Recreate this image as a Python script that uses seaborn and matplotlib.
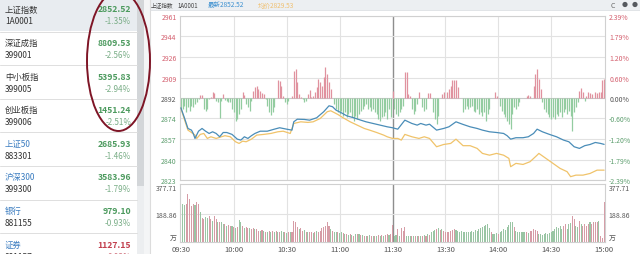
import numpy as np
import pandas as pd
import matplotlib
matplotlib.use("Agg")
import matplotlib.pyplot as plt
import seaborn as sns
from matplotlib.patches import Ellipse, Rectangle, Circle

sns.set_theme(style="white")
plt.rcParams['font.family'] = ['Noto Sans CJK SC', 'DejaVu Sans']
plt.rcParams['axes.unicode_minus'] = False

# ---------------- data ----------------
index_names = ['上证指数', '深证成指', '中小板指', '创业板指', '上证50', '沪深300', '银行', '证券']
index_codes = ['1A0001', '399001', '399005', '399006', '883301', '399300', '881155', '881157']
index_values = ['2852.52', '8809.53', '5395.83', '1451.24', '2685.93', '3583.96', '979.10', '1127.15']
index_changes = ['-1.35%', '-2.56%', '-2.94%', '-2.51%', '-1.46%', '-1.79%', '-0.93%', '0.93%']
index_up = [False, False, False, False, False, False, False, True]
name_blue = [False, False, False, False, True, True, True, True]

header_name = '上证指数'
header_code = '1A0001'
header_last = '最新2852.52'
header_avg = '均价2829.53'

prev_close = 2891.6
price_ticks = [2822.5, 2839.7, 2857.0, 2874.3, 2891.6, 2908.8, 2926.1, 2943.4, 2960.6]
price_labels = ['2823', '2840', '2857', '2874', '2892', '2909', '2926', '2944', '2961']
pct_labels = ['-2.39%', '-1.79%', '-1.20%', '-0.60%', '0.00%', '0.60%', '1.20%', '1.79%', '2.39%']

time_ticks = [0, 30, 60, 90, 120, 150, 180, 210, 240]
time_labels = ['09:30', '10:00', '10:30', '11:00', '11:30', '13:30', '14:00', '14:30', '15:00']

vol_ticks = [0, 188.86, 377.71]
vol_labels = ['万', '188.86', '377.71']

# last price line (minute index, price)
last_min = [0, 2, 4, 6, 7, 8, 10, 12, 14, 16, 18, 20, 22, 24, 26, 29, 32, 34, 36, 38,
            40, 42, 45, 49, 53, 56, 60, 63, 64, 66, 70, 73, 77, 81, 84, 86, 88, 91, 94, 98,
            102, 105, 109, 113, 117, 120, 123, 127, 131, 134, 136, 139, 141, 145, 149, 152,
            156, 160, 164, 168, 171, 175, 179, 183, 185, 187, 190, 194, 197, 200, 202, 205,
            209, 213, 217, 220, 223, 226, 229, 232, 235, 238, 240]
last_price = [2883.3, 2874.9, 2865.9, 2864.5, 2861.7, 2857.5, 2863.6, 2865.9, 2863.6, 2861.7,
              2863.1, 2861.7, 2858.9, 2862.5, 2862.5, 2860.9, 2856.9, 2856.1, 2858.9, 2857.5,
              2859.8, 2861.7, 2863.6, 2863.6, 2865.3, 2866.5, 2865.3, 2864.5, 2871.5, 2873.7,
              2873.5, 2872.9, 2874.9, 2880.0, 2885.0, 2884.2, 2881.3, 2879.1, 2876.6, 2874.9,
              2872.9, 2871.5, 2870.1, 2868.7, 2867.3, 2866.5, 2865.3, 2872.9, 2870.1, 2868.7,
              2870.1, 2868.7, 2869.5, 2864.5, 2865.9, 2867.3, 2871.5, 2869.3, 2867.3, 2865.9,
              2864.5, 2863.1, 2862.5, 2861.7, 2859.8, 2856.9, 2858.1, 2858.1, 2858.9, 2861.7,
              2865.3, 2863.1, 2860.9, 2858.9, 2856.1, 2854.7, 2850.5, 2849.1, 2851.4, 2852.4,
              2854.1, 2853.3, 2852.5]

# average price line (minute index, price)
avg_min = [0, 4, 6, 8, 9, 11, 13, 15, 17, 20, 23, 25, 28, 31, 33, 35, 37, 40, 43, 47,
           51, 55, 58, 62, 64, 68, 72, 75, 79, 83, 85, 89, 92, 96, 100, 104, 107, 111, 115, 117,
           120, 123, 125, 127, 131, 135, 138, 141, 145, 149, 153, 156, 160, 164, 168, 171, 175,
           179, 183, 186, 187, 190, 194, 198, 202, 203, 207, 211, 215, 219, 221, 224, 228, 232,
           236, 240]
avg_price = [2882.7, 2864.5, 2862.5, 2860.3, 2857.5, 2860.9, 2861.7, 2857.5, 2858.9, 2857.5,
             2858.9, 2859.8, 2858.9, 2854.7, 2853.3, 2855.2, 2854.7, 2856.9, 2860.3, 2860.9,
             2861.7, 2863.1, 2863.6, 2861.7, 2870.1, 2871.5, 2871.0, 2871.5, 2874.3, 2880.0,
             2880.8, 2877.7, 2874.9, 2871.5, 2868.7, 2865.9, 2864.5, 2862.5, 2860.3, 2858.9,
             2857.5, 2857.5, 2856.1, 2860.9, 2858.9, 2857.5, 2858.9, 2857.5, 2850.5, 2852.4,
             2853.3, 2856.9, 2851.4, 2851.4, 2849.1, 2844.9, 2843.4, 2844.9, 2843.4, 2840.7,
             2833.7, 2836.5, 2835.6, 2837.9, 2843.4, 2844.9, 2840.7, 2836.5, 2832.3, 2829.5,
             2825.3, 2826.6, 2826.6, 2828.0, 2830.8, 2830.8]

# red/green strength bars around previous close (points, per minute)
strength = [
    -9.3, -9.3, -6.5, -11.8, -7.6, -10.7, -6.5, -7.6, -5.0, -3.6,
    -0.8, 2.5, 2.5, -9.3, -10.7, -9.3, -0.8, 0.8, 4.8, 4.0,
    -2.3, -3.6, -16.8, -2.3, 3.4, -1.4, -2.3, -3.1, -3.6, -9.3,
    -12.0, -19.1, -17.7, -13.5, -9.3, 4.8, 2.5, -5.0, -7.8, -10.7,
    -2.3, 6.1, 9.0, 10.4, 7.6, 6.1, 4.2, 3.4, -0.8, -6.5,
    -12.0, -14.3, -12.0, -7.8, 0.0, 15.4, 14.6, 10.4, 1.7, -3.6,
    -5.0, -2.3, 0.0, 1.7, 23.0, 24.4, 13.2, 3.4, 0.8, -0.8,
    -3.6, -2.3, 3.4, 7.0, 0.8, 1.4, 4.8, 9.0, 16.0, 13.2,
    10.4, 17.4, 25.8, 20.2, 13.2, 7.6, 0.0, -5.0, -9.3, -12.0,
    -13.5, -10.7, -14.9, -12.0, -16.2, -13.5, -12.0, -16.2, -19.1, -14.9,
    -17.7, -13.5, -10.7, -9.3, -6.5, -5.0, -9.3, -7.8, -10.7, -9.3,
    -12.0, -13.5, -17.7, -19.1, -16.2, -14.9, -12.0, -17.7, -9.3, -16.2,
    6.1, -9.3, -13.5, -14.9, -12.0, -9.3, -6.5, 21.6, 21.6, 3.4,
    1.9, -9.3, -13.5, -10.7, -5.0, 5.3, 0.0, -7.8, -10.7, -9.3,
    4.2, 4.2, 0.0, -12.0, -17.7, -21.9, -14.9, 0.0, 3.4, 4.8,
    0.0, 4.8, 7.6, 10.4, 15.4, 15.4, 15.4, 9.0, 0.0, 0.0,
    -12.0, -9.3, -6.5, -9.3, -7.8, -6.5, -10.7, -12.0, -9.3, -13.5,
    -12.0, -14.9, -12.0, -19.1, -13.5, -9.3, 0.0, 0.0, 4.8, 1.7,
    0.0, -6.5, -10.7, -13.5, -16.2, -19.1, -21.9, -26.1, -13.5, -7.8,
    -9.3, -6.5, -3.6, 0.0, 0.0, 0.0, 1.9, 2.5, 1.9, 0.0,
    10.4, 20.2, 24.4, 16.0, 7.6, -3.6, -9.3, -12.0, -13.5, -16.2,
    -17.7, -16.2, -17.7, -13.5, -14.9, -12.0, -16.2, -12.0, -9.3, -13.5,
    -10.7, -14.9, -27.5, -12.0, -7.8, -3.6, 6.1, 8.2, 4.8, -2.3,
    1.9, 4.8, 4.0, 3.4, 0.0, 4.8, 4.2, 5.3, 4.8, 15.4,
    16.0]

# volume per minute (万)
volume = [
    192, 261, 254, 261, 330, 295, 250, 261, 254, 272,
    261, 204, 163, 158, 169, 163, 181, 158, 146, 176,
    158, 135, 140, 135, 124, 124, 112, 117, 108, 112,
    101, 94, 101, 153, 140, 112, 94, 101, 94, 94,
    89, 94, 89, 89, 78, 78, 82, 78, 71, 66,
    78, 71, 78, 71, 78, 71, 66, 78, 66, 71,
    62, 66, 66, 71, 146, 135, 101, 89, 94, 78,
    85, 71, 66, 71, 66, 62, 71, 78, 66, 78,
    94, 101, 112, 140, 112, 89, 78, 66, 71, 66,
    62, 66, 62, 55, 55, 48, 55, 48, 43, 55,
    55, 55, 48, 48, 43, 43, 43, 48, 43, 43,
    39, 43, 48, 43, 48, 43, 48, 55, 48, 55,
    117, 43, 48, 89, 43, 94, 78, 101, 43, 39,
    43, 39, 43, 39, 43, 39, 43, 43, 48, 43,
    55, 48, 66, 78, 85, 89, 94, 85, 89, 78,
    66, 71, 66, 78, 82, 89, 85, 78, 71, 78,
    71, 66, 71, 66, 71, 78, 71, 82, 78, 89,
    94, 101, 108, 117, 124, 94, 66, 55, 55, 62,
    55, 66, 78, 89, 85, 101, 117, 135, 140, 101,
    78, 66, 71, 66, 71, 66, 71, 62, 78, 78,
    89, 85, 78, 55, 55, 48, 55, 62, 55, 62,
    71, 78, 89, 101, 94, 108, 89, 112, 124, 89,
    124, 130, 181, 158, 112, 101, 146, 124, 112, 124,
    108, 124, 135, 124, 135, 140, 135, 146, 43, 30,
    272]

# direction of each volume bar: r = up, g = down, n = opening
volume_dir = ("nggrrrrrgr" "rgrrggrrgr" "rgrggrgrrg" "rgrggrgrrg" "rrgrrgrgrg"
              "rgrgrgrggr" "grgrrrrgrr" "grgrrgrgrr" "rrrrrgrggr" "ggrgrgrgrg"
              "rgrgrgrgrg" "rgrgrgrrgr" "rggrgrrrgg" "grgrgrgrgr" "grgggrgrgr"
              "rrrrrrgggg" "gggggggggg" "ggggggrggg" "rggggggggr" "ggggggrgrr"
              "rrrggggggg" "gggggggrrg" "ggrrggrgrr" "rrgrrrrgrr" "r")

# ---------------- styling ----------------
RED = '#e0929f'
GREEN = '#93cca0'
RED_T = '#d4606f'
GREEN_T = '#5d9e6e'
GRAY_T = '#555555'
BLUE_L = '#4a8db8'
YEL_L = '#f0c36a'
GRID = '#e2e2e2'
DARK_GRID = '#8e8e8e'

W, H = 640, 255


def frac(l, t, r, b):
    return [l / W, 1 - b / H, (r - l) / W, (b - t) / H]


fig = plt.figure(figsize=(6.4, 2.55), dpi=100)
fig.patch.set_facecolor('white')

# background / left list panel
bg = fig.add_axes([0, 0, 1, 1])
bg.set_xlim(0, W)
bg.set_ylim(H, 0)
bg.axis('off')

bg.add_patch(Rectangle((0, 0), 137, 32, facecolor='#e8ecf0', edgecolor='none'))
bg.add_patch(Rectangle((137, 0), 7, 187, facecolor='#d3d6d9', edgecolor='none'))
bg.add_patch(Rectangle((137, 187), 7, 68, facecolor='#eceef0', edgecolor='none'))
bg.add_patch(Rectangle((144, 0), 6, 255, facecolor='#f4f5f6', edgecolor='none'))
bg.plot([149.5, 149.5], [0, 255], color='#dcdcdc', lw=0.8)
bg.add_patch(Rectangle((150, 0), 490, 11, facecolor='#eceff2', edgecolor='none'))
bg.plot([150, 640], [11, 11], color='#dcdfe3', lw=0.6)

for i in range(len(index_names)):
    y0 = 10 + 33.6 * i
    bg.text(5, y0, index_names[i], fontsize=6, va='center', ha='left',
            color='#3a7cc0' if name_blue[i] else '#333333')
    bg.text(5, y0 + 12, index_codes[i], fontsize=6, va='center', ha='left', color='#333333')
    vcol = '#c2404e' if index_up[i] else '#4c9a5e'
    pcol = '#d0707c' if index_up[i] else '#79ad86'
    bg.text(131, y0, index_values[i], fontsize=6.2, va='center', ha='right',
            color=vcol, fontweight='bold')
    bg.text(131, y0 + 12, index_changes[i], fontsize=5.8, va='center', ha='right', color=pcol)
    if i < len(index_names) - 1:
        ys = 32.5 + 33.6 * i
        bg.plot([0, 137], [ys, ys], color='#dedede', lw=0.7)

# header text
bg.text(151, 5.5, header_name, fontsize=4.1, va='center', color='#444444')
bg.text(178, 5.5, header_code, fontsize=4.4, va='center', color='#444444')
bg.text(208, 5.5, header_last, fontsize=4.7, va='center', color='#3a8fd0')
bg.text(258, 5.5, header_avg, fontsize=4.7, va='center', color='#f0c070')
bg.text(613, 5.5, 'C', fontsize=5, va='center', ha='center', color='#666666')
bg.add_patch(Circle((625, 5.5), 2.6, facecolor='#55595e', edgecolor='none'))
bg.add_patch(Circle((635, 5.5), 2.6, facecolor='#55595e', edgecolor='none'))

# circled values annotation
bg.add_patch(Ellipse((118.5, 62), 63, 140, facecolor='none', edgecolor='#7e1526', lw=1.4,
                     zorder=10, clip_on=False))

# ---------------- price panel ----------------
ax = fig.add_axes(frac(180, 17, 605, 181))
ax.set_facecolor('white')
minutes = np.arange(len(strength))
for t in time_ticks[1:-1]:
    ax.axvline(t, color=DARK_GRID if t == 120 else GRID, lw=1.0 if t == 120 else 0.8, zorder=1)
for p in price_ticks:
    ax.axhline(p, color='#c8c8c8' if p == prev_close else GRID, lw=0.8, zorder=1)

dev = np.asarray(strength)
bar_cols = [RED if d > 0 else GREEN for d in dev]
ax.vlines(minutes, prev_close, prev_close + dev, colors=bar_cols, lw=0.9, zorder=2)

sns.lineplot(x=avg_min, y=avg_price, ax=ax, color=YEL_L, linewidth=0.9, estimator=None,
             zorder=3)
sns.lineplot(x=last_min, y=last_price, ax=ax, color=BLUE_L, linewidth=0.9, estimator=None,
             zorder=4)

ax.set_xlim(-0.5, 240.5)
ax.set_ylim(price_ticks[0], price_ticks[-1])
ax.set_xticks([])
ax.set_xlabel('')
ax.set_ylabel('')
ax.set_yticks(price_ticks)
ax.set_yticklabels(price_labels, fontsize=5)
ax.tick_params(axis='y', length=0, pad=2.5)
for lab, p in zip(ax.get_yticklabels(), price_ticks):
    lab.set_color(RED_T if p > prev_close else (GREEN_T if p < prev_close else GRAY_T))
for s in ax.spines.values():
    s.set_color('#d0d0d0')
    s.set_linewidth(0.8)

ax2 = ax.twinx()
ax2.set_ylim(price_ticks[0], price_ticks[-1])
ax2.set_yticks(price_ticks)
ax2.set_yticklabels(pct_labels, fontsize=5)
ax2.tick_params(axis='y', length=0, pad=3)
for lab, p in zip(ax2.get_yticklabels(), price_ticks):
    lab.set_color(RED_T if p > prev_close else (GREEN_T if p < prev_close else GRAY_T))
for s in ax2.spines.values():
    s.set_visible(False)

# ---------------- volume panel ----------------
axv = fig.add_axes(frac(180, 185, 605, 243))
axv.set_facecolor('white')
for t in time_ticks[1:-1]:
    axv.axvline(t, color=DARK_GRID if t == 120 else GRID, lw=1.0 if t == 120 else 0.8, zorder=0)
axv.axhline(vol_ticks[1], color=GRID, lw=0.8, zorder=0)

vdf = pd.DataFrame({'minute': np.arange(len(volume)), 'vol': volume,
                    'dir': list(volume_dir)})
sns.barplot(data=vdf, x='minute', y='vol', hue='dir',
            palette={'r': RED, 'g': GREEN, 'n': '#7d858d'},
            native_scale=True, dodge=False, legend=False, errorbar=None,
            width=0.6, linewidth=0, ax=axv, zorder=2)

axv.set_xlim(-0.5, 240.5)
axv.set_ylim(0, 398)
axv.set_xlabel('')
axv.set_ylabel('')
axv.set_xticks(time_ticks)
axv.set_xticklabels(time_labels, fontsize=5.5, color=GRAY_T)
axv.set_yticks(vol_ticks)
axv.set_yticklabels(vol_labels, fontsize=5, color=GRAY_T)
axv.tick_params(axis='y', length=0, pad=2.5, labelleft=True, labelright=True)
axv.tick_params(axis='x', length=0, pad=2.5)
ticks0 = axv.yaxis.get_major_ticks()[0]
ticks0.label1.set_verticalalignment('bottom')
ticks0.label2.set_verticalalignment('bottom')
for s in axv.spines.values():
    s.set_color('#d0d0d0')
    s.set_linewidth(0.8)

fig.savefig('out.png', dpi=100)
